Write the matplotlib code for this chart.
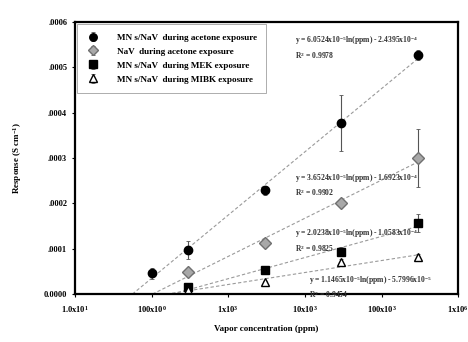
import numpy as np
import matplotlib
matplotlib.use("Agg")
import matplotlib.pyplot as plt

plt.rcParams['font.family'] = ['Liberation Serif', 'DejaVu Serif']
plt.rcParams['font.weight'] = 'bold'
plt.rcParams['mathtext.fontset'] = 'custom'
plt.rcParams['mathtext.rm'] = 'Liberation Serif:bold'
plt.rcParams['mathtext.bf'] = 'Liberation Serif:bold'
plt.rcParams['mathtext.default'] = 'bf'

# vapour concentration (ppm) and response (S/cm)
conc_acetone = [100, 300, 3000, 30000, 300000]
mn_acetone = [0.46e-4, 0.97e-4, 2.29e-4, 3.77e-4, 5.27e-4]
mn_acetone_err = [0.12e-4, 0.2e-4, 0.1e-4, 0.62e-4, 0.1e-4]

conc = [300, 3000, 30000, 300000]
nav_acetone = [0.49e-4, 1.12e-4, 2.0e-4, 3.0e-4]
nav_acetone_err = [0.08e-4, 0.08e-4, 0.08e-4, 0.65e-4]
mn_mek = [0.15e-4, 0.53e-4, 0.93e-4, 1.57e-4]
mn_mek_err = [0.05e-4, 0.06e-4, 0.1e-4, 0.2e-4]
mn_mibk = [0.09e-4, 0.26e-4, 0.71e-4, 0.82e-4]
mn_mibk_err = [0.03e-4, 0.04e-4, 0.06e-4, 0.06e-4]

labels = ['MN s/NaV  during acetone exposure',
          'NaV  during acetone exposure',
          'MN s/NaV  during MEK exposure',
          'MN s/NaV  during MIBK exposure']

xticks = [10, 100, 1e3, 1e4, 1e5, 1e6]
xticklabels = ['1.0x10$^1$', '100x10$^0$', '1x10$^3$', '10x10$^3$', '100x10$^3$', '1x10$^6$']
yticks = [0, 1e-4, 2e-4, 3e-4, 4e-4, 5e-4, 6e-4]
yticklabels = ['0.0000', '.0001', '.0002', '.0003', '.0004', '.0005', '.0006']

series = [
    (conc_acetone, mn_acetone, mn_acetone_err, dict(marker='o', mfc='black', mec='black')),
    (conc, nav_acetone, nav_acetone_err, dict(marker='D', mfc='#a8a8a8', mec='#707070')),
    (conc, mn_mek, mn_mek_err, dict(marker='s', mfc='black', mec='black')),
    (conc, mn_mibk, mn_mibk_err, dict(marker='^', mfc='white', mec='black')),
]
# where each fit equation goes (axes fraction)
eq_pos = [(0.575, 0.955), (0.575, 0.45), (0.575, 0.245), (0.61, 0.075)]

fig = plt.figure(figsize=(4.68, 3.42), dpi=100)
ax = fig.add_axes([0.160, 0.140, 0.819, 0.796])

for (x, y, err, style), lab, pos in zip(series, labels, eq_pos):
    x = np.array(x, dtype=float)
    y = np.array(y)
    ax.errorbar(x, y, yerr=err, ls='none', ms=6, ecolor='#555555', elinewidth=0.8,
                capsize=1.5, capthick=0.6, label=lab, **style)
    # log-linear fit
    a, b = np.polyfit(np.log(x), y, 1)
    pred = a * np.log(x) + b
    r2 = 1 - np.sum((y - pred) ** 2) / np.sum((y - y.mean()) ** 2)
    x0 = np.exp(-b / a)
    xs = np.logspace(np.log10(x0), np.log10(x.max()), 50)
    ax.plot(xs, a * np.log(xs) + b, ls=(0, (3, 2)), color='#9a9a9a', lw=0.8, zorder=1)
    ea = int(np.floor(np.log10(abs(a))))
    eb = int(np.floor(np.log10(abs(b))))
    sign = '-' if b < 0 else '+'
    txt = (f'y = {a / 10**ea:.4f}x10$^{{{ea}}}$ln(ppm) {sign} {abs(b) / 10**eb:.4f}x10$^{{{eb}}}$\n'
           f'R$^2$ = {r2:.4f}')
    ax.text(pos[0], pos[1], txt, transform=ax.transAxes, fontsize=5.5, va='top',
            ha='left', linespacing=1.3, color='#333333')

ax.set_xscale('log')
ax.set_xlim(10, 1e6)
ax.set_ylim(0, 6e-4)
ax.set_xticks(xticks)
ax.set_xticklabels(xticklabels)
ax.xaxis.set_minor_locator(matplotlib.ticker.NullLocator())
ax.set_yticks(yticks)
ax.set_yticklabels(yticklabels)
ax.tick_params(labelsize=6, length=2, width=0.8, direction='out')
ax.tick_params(axis='x', pad=5)
for sp in ax.spines.values():
    sp.set_linewidth(1.6)

ax.set_xlabel('Vapor concentration (ppm)', fontsize=6.5, fontweight='bold', labelpad=7)
ax.set_ylabel('Response (S cm$^{-1}$)', fontsize=6.5, fontweight='bold', labelpad=14)

leg = ax.legend(loc='upper left', fontsize=6.6, frameon=True, fancybox=False,
                edgecolor='#888888', borderaxespad=0.25, handletextpad=1.8,
                labelspacing=0.6, markerscale=0.9, borderpad=1.0, handlelength=1.5)
leg.get_frame().set_linewidth(0.6)

fig.savefig('out.png', dpi=100)
